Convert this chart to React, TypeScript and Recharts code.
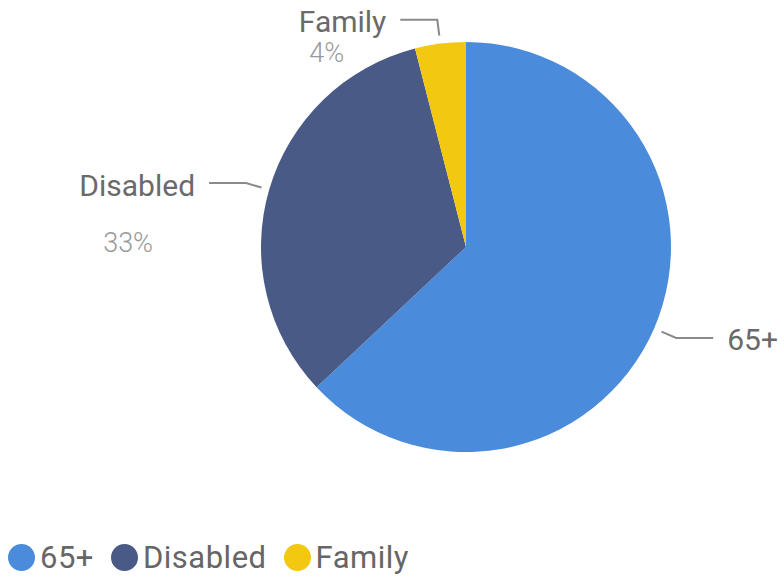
import React from "react";
import { PieChart, Pie, Cell, Legend } from "recharts";

const categories = ["65+", "Disabled", "Family"];
const shares = [63, 33, 4];
const colors = ["#4A8CDB", "#4A5A86", "#F2C811"];
const showPercent = [false, true, true];
const percentDy = [0, 60, 33];

const data = categories.map((name, i) => ({ name, value: shares[i] }));

const RAD = Math.PI / 180;
const FONT = "Roboto, 'DejaVu Sans', sans-serif";

const renderLabel = (props: any) => {
  const { cx, cy, midAngle, outerRadius, percent, name, index } = props;
  const cos = Math.cos(-midAngle * RAD);
  const sin = Math.sin(-midAngle * RAD);
  const sx = cx + (outerRadius + 8) * cos;
  const sy = cy + (outerRadius + 8) * sin;
  const mx = cx + (outerRadius + 24) * cos;
  const my = cy + (outerRadius + 24) * sin;
  const dir = cos >= 0 ? 1 : -1;
  const ex = mx + dir * 37;
  const ey = my;
  const tx = ex + dir * 14;
  const anchor = dir > 0 ? "start" : "end";
  return (
    <g>
      <polyline
        points={`${sx},${sy} ${mx},${my} ${ex},${ey}`}
        fill="none"
        stroke="#8a8a8a"
        strokeWidth={2}
      />
      <text
        x={tx}
        y={ey + 2}
        textAnchor={anchor}
        dominantBaseline="central"
        fill="#6a6a6a"
        fontSize={30}
        fontFamily={FONT}
      >
        {name}
      </text>
      {showPercent[index] && (
        <text
          x={tx - 42}
          y={ey + percentDy[index]}
          textAnchor="end"
          dominantBaseline="central"
          fill="#9a9a9a"
          fontSize={27}
          fontWeight={300}
          fontFamily={FONT}
        >
          {`${Math.round(percent * 100)}%`}
        </text>
      )}
    </g>
  );
};

const renderLegend = (props: any) => {
  const { payload } = props;
  return (
    <div style={{ display: "flex", alignItems: "center", fontFamily: FONT }}>
      {(payload || []).map((entry: any, i: number) => (
        <div
          key={i}
          style={{ display: "flex", alignItems: "center", marginRight: 17 }}
        >
          <span
            style={{
              display: "inline-block",
              width: 27,
              height: 27,
              borderRadius: "50%",
              background: entry.color,
              marginRight: 5,
            }}
          />
          <span
            style={{
              fontSize: 31,
              color: "#666",
              lineHeight: "31px",
              letterSpacing: 0.5,
            }}
          >
            {entry.value}
          </span>
        </div>
      ))}
    </div>
  );
};

export default function App() {
  return (
    <div
      style={{
        position: "absolute",
        left: 0,
        top: 0,
        width: 784,
        height: 577,
        background: "#fff",
      }}
    >
      <PieChart width={784} height={577} margin={{ top: 0, right: 0, bottom: 0, left: 0 }}>
        <Pie
          data={data}
          dataKey="value"
          nameKey="name"
          cx={466}
          cy={247}
          outerRadius={205}
          startAngle={90}
          endAngle={-270}
          stroke="none"
          label={renderLabel}
          labelLine={false}
          isAnimationActive={false}
        >
          {data.map((d, i) => (
            <Cell key={d.name} fill={colors[i]} />
          ))}
        </Pie>
        <Legend
          content={renderLegend}
          wrapperStyle={{ left: 8, top: 542, width: 700 }}
        />
      </PieChart>
    </div>
  );
}
